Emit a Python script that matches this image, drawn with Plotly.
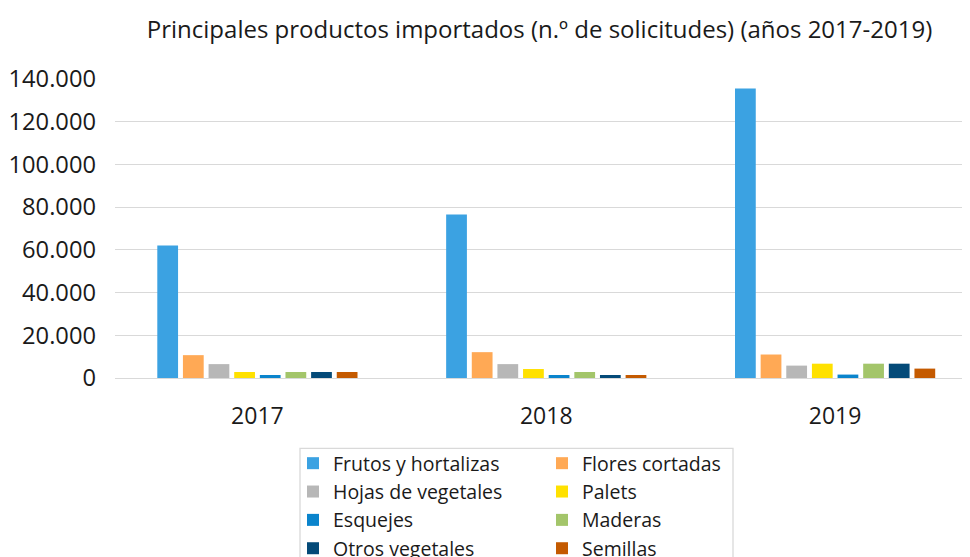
import plotly.graph_objects as go

years = ["2017", "2018", "2019"]
series_names = ["Frutos y hortalizas", "Flores cortadas", "Hojas de vegetales", "Palets",
                "Esquejes", "Maderas", "Otros vegetales", "Semillas"]
frutos = [62000, 76500, 135500]
flores = [10700, 12100, 11000]
hojas = [6500, 6500, 5800]
palets = [2800, 4200, 6700]
esquejes = [1400, 1400, 1600]
maderas = [2800, 2800, 6700]
otros = [2800, 1400, 6700]
semillas = [2800, 1400, 4400]
values = [frutos, flores, hojas, palets, esquejes, maderas, otros, semillas]
colors = ["#3ba2e2", "#ffa955", "#b7b7b7", "#ffe100", "#0a84cc", "#a3c56a", "#044a78", "#c45a00"]
y_ticks = [0, 20000, 40000, 60000, 80000, 100000, 120000, 140000]
y_ticktext = ["0", "20.000", "40.000", "60.000", "80.000", "100.000", "120.000", "140.000"]

FONT = "Open Sans"
TXT = "#1a1a1a"

# the page body adds an 8px offset; work in page pixels and subtract it
OFF = 8
W, H = 970 - OFF, 557 - OFF
L, T = 115 - OFF, 79.3 - OFF
B_Y = 378.5 - OFF          # baseline in figure px
PW = W - L                  # plot width
PH = B_Y - T                # plot height

fig = go.Figure()
for i, (name, vals, col) in enumerate(zip(series_names, values, colors)):
    fig.add_trace(go.Bar(
        x=years, y=vals, name=name, marker=dict(color=col, line=dict(width=0)),
        legend="legend" if i % 2 == 0 else "legend2",
    ))

fig.update_layout(
    width=W, height=H,
    paper_bgcolor="white", plot_bgcolor="white",
    font=dict(family=FONT, color=TXT, size=20),
    margin=dict(l=L, r=0, t=T, b=H - B_Y, autoexpand=False),
    barmode="group", bargap=0.29, bargroupgap=0.19,
    title=dict(text="Principales productos importados (n.º de solicitudes) (años 2017-2019)",
               x=(539.5 - OFF) / W, xanchor="center", xref="container",
               y=1 - (30 - OFF) / H, yanchor="middle", yref="container",
               font=dict(family=FONT, size=24, color=TXT)),
    xaxis=dict(type="category", range=[-0.493, 2.467], showgrid=False, showline=False,
               ticks="", tickfont=dict(size=23, color=TXT), ticklabelstandoff=22),
    yaxis=dict(range=[0, 140000], tickvals=y_ticks, ticktext=y_ticktext,
               showgrid=True, gridcolor="#d9d9d9", gridwidth=1.3,
               zeroline=True, zerolinecolor="#d9d9d9", zerolinewidth=1.3,
               showline=False, ticks="", tickfont=dict(size=23.7, color=TXT),
               ticklabelstandoff=18),
    legend=dict(orientation="v", xref="container", yref="container",
                x=(293 - OFF) / W, xanchor="left", y=1 - (444 - OFF) / H, yanchor="top",
                font=dict(size=19.5, color=TXT), bgcolor="rgba(0,0,0,0)", borderwidth=0,
                tracegroupgap=0),
    legend2=dict(orientation="v", xref="container", yref="container",
                 x=(542 - OFF) / W, xanchor="left", y=1 - (444 - OFF) / H, yanchor="top",
                 font=dict(size=19.5, color=TXT), bgcolor="rgba(0,0,0,0)", borderwidth=0,
                 tracegroupgap=0),
    shapes=[dict(type="rect", xref="paper", yref="paper",
                 x0=(300 - 115) / PW, x1=(733 - 115) / PW,
                 y0=(378.5 - 575) / PH, y1=(378.5 - 449) / PH,
                 line=dict(color="#d9d9d9", width=1.3), fillcolor="rgba(0,0,0,0)")],
)

fig.write_html("out.html")
